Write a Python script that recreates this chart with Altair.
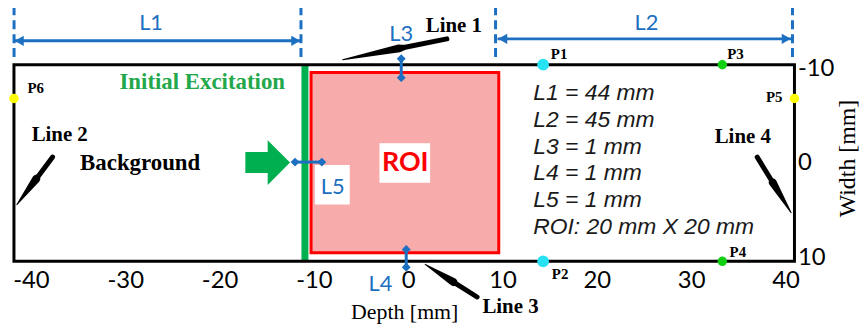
import altair as alt
import pandas as pd

# ---------------- data (mm) ----------------
X_DOMAIN = [-41.8, 40.95]
Y_DOMAIN = [-10.42, 10.42]
x_ticks = [-40, -30, -20, -10, 0, 10, 20, 30, 40]
y_ticks = [-10, 0, 10]

excitation_x = -10.95
roi_x, roi_x2, roi_y, roi_y2 = -10.3, 9.6, -9.6, 9.5

point_names = ["P1", "P2", "P3", "P4", "P5", "P6"]
point_x = [14.3, 14.3, 33.3, 33.3, 40.95, -41.8]
point_y = [-10.42, 10.42, -10.42, 10.42, -6.84, -6.84]
point_colors = ["#26e2f2", "#26e2f2", "#11d011", "#11d011", "#ffff00", "#ffff00"]
point_sizes = [140, 140, 90, 90, 90, 90]
plabel_x = [16.0, 16.1, 34.7, 34.95, 38.8, -39.5]
plabel_y = [-11.6, 11.8, -11.6, 9.4, -6.95, -7.9]

line_names = ["Line 1", "Line 2", "Line 3", "Line 4"]
line_tail_x = [4.1, -37.7, 7.3, 37.0]
line_tail_y = [-13.16, -0.63, 14.2, -0.63]
line_tip_x = [-6.95, -41.5, 1.8, 40.6]
line_tip_y = [-10.95, 4.42, 10.74, 5.26]
line_label_x = [4.84, -36.95, 10.84, 35.47]
line_label_y = [-14.53, -2.95, 15.3, -2.74]
arrow_frac = [0.0, 0.4, 0.46, 1.0]
arrow_width = [5, 5, 8, 0]

dim_x1 = [-41.79, 9.47]
dim_x2 = [-11.37, 40.63]
dim_y = [-12.95, -13.16]
dash_x = [-41.79, -11.37, 9.26, 40.74]
dash_y1, dash_y2 = -16.6, -11.05

small_x1 = [-0.74, -0.21, -12.0]
small_x2 = [-0.74, -0.21, -9.16]
small_y1 = [-11.05, 9.16, -0.1]
small_y2 = [-9.05, 11.05, -0.1]

blue_text = ["L1", "L2", "L3", "L4", "L5"]
blue_x = [-27.26, 25.26, -0.74, -2.95, -8.0]
blue_y = [-14.85, -14.85, -13.68, 12.84, 2.5]

spec_lines = ["L1 = 44 mm", "L2 = 45 mm", "L3 = 1 mm", "L4 = 1 mm", "L5 = 1 mm", "ROI: 20 mm X 20 mm"]
spec_x = 13.26
spec_y = [-7.37, -4.53, -1.68, 1.05, 3.89, 6.74]

# white label boxes: ROI, L5
wbox_x = [-3.05, -9.9]
wbox_x2 = [2.32, -6.2]
wbox_y = [-2.1, 0.2]
wbox_y2 = [2.1, 4.4]

green_arrow_x, green_arrow_y = -14.9, -0.05

BLUE = "#1c6fc1"
GREEN = "#00b050"

# ---------------- encodings ----------------
xs = alt.Scale(domain=X_DOMAIN, nice=False, zero=False)
ys = alt.Scale(domain=Y_DOMAIN, nice=False, zero=False, reverse=True)
xaxis = alt.Axis(values=x_ticks, title="Depth [mm]", grid=False, domain=False, ticks=False,
                 tickSize=0, labelFont="Lato", labelFontSize=24, labelColor="black",
                 labelExpr="'' + datum.value",
                 labelPadding=19, labelBaseline="middle", labelFlush=False, labelOverlap=False,
                 titleFont="Liberation Serif", titleFontSize=22, titleFontWeight="normal",
                 titleColor="black", titleY=51, titleBaseline="middle")
yaxis = alt.Axis(orient="right", values=y_ticks, title="Width [mm]", grid=False, domain=False,
                 ticks=False, tickSize=0, labelFont="Lato", labelFontSize=24, labelColor="black",
                 labelExpr="'' + datum.value",
                 labelAlign="left", labelPadding=3, labelBaseline="middle", labelFlush=False,
                 labelOverlap=False, titleFont="Liberation Serif", titleFontSize=24,
                 titleFontWeight="normal", titleColor="black", titleAngle=270, titleX=53,
                 titleY=94, titleAlign="center", titleBaseline="middle")


def X(f):
    return alt.X(f, type="quantitative", scale=xs, axis=xaxis)


def Y(f):
    return alt.Y(f, type="quantitative", scale=ys, axis=yaxis)


# ---------------- frames ----------------
box_df = pd.DataFrame({"x": [X_DOMAIN[0]], "x2": [X_DOMAIN[1]], "y": [Y_DOMAIN[0]], "y2": [Y_DOMAIN[1]]})
exc_df = pd.DataFrame({"x": [excitation_x], "y": [Y_DOMAIN[0]], "y2": [Y_DOMAIN[1]]})
roi_df = pd.DataFrame({"x": [roi_x], "x2": [roi_x2], "y": [roi_y], "y2": [roi_y2]})
wbox_df = pd.DataFrame({"x": wbox_x, "x2": wbox_x2, "y": wbox_y, "y2": wbox_y2})
pts_df = pd.DataFrame({"name": point_names, "x": point_x, "y": point_y, "c": point_colors,
                       "s": point_sizes, "lx": plabel_x, "ly": plabel_y})

rows = []
for i, n in enumerate(line_names):
    for k, (f, w) in enumerate(zip(arrow_frac, arrow_width)):
        rows.append({"name": n, "o": k,
                     "x": line_tail_x[i] + (line_tip_x[i] - line_tail_x[i]) * f,
                     "y": line_tail_y[i] + (line_tip_y[i] - line_tail_y[i]) * f,
                     "w": w})
trail_df = pd.DataFrame(rows)
line_lbl_df = pd.DataFrame({"t": line_names, "x": line_label_x, "y": line_label_y})

dim_df = pd.DataFrame({"x": dim_x1, "x2": dim_x2, "y": dim_y})
headL_df = pd.DataFrame({"x": [a + 0.55 for a in dim_x1], "y": dim_y})
headR_df = pd.DataFrame({"x": [a - 0.55 for a in dim_x2], "y": dim_y})
dash_df = pd.DataFrame({"x": dash_x, "y": [dash_y1] * 4, "y2": [dash_y2] * 4})
small_df = pd.DataFrame({"x": small_x1, "x2": small_x2, "y": small_y1, "y2": small_y2})
dia_df = pd.DataFrame({"x": small_x1 + small_x2, "y": small_y1 + small_y2})
blue_df = pd.DataFrame({"t": blue_text, "x": blue_x, "y": blue_y})
spec_df = pd.DataFrame({"t": spec_lines, "x": [spec_x] * len(spec_lines), "y": spec_y})
misc_df = pd.DataFrame({"t": ["Background"], "x": [-28.42], "y": [0.0]})
exc_lbl_df = pd.DataFrame({"t": ["Initial Excitation"], "x": [-21.84], "y": [-8.53]})
roi_lbl_df = pd.DataFrame({"t": ["ROI"], "x": [-0.32], "y": [0.0]})
garrow_df = pd.DataFrame({"x": [green_arrow_x], "y": [green_arrow_y]})

# ---------------- layers ----------------
layers = []
layers.append(alt.Chart(roi_df).mark_rect(fill="#f8abab", stroke="#ff0000", strokeWidth=3)
              .encode(x=X("x"), x2="x2", y=Y("y"), y2="y2"))
layers.append(alt.Chart(exc_df).mark_rule(color=GREEN, strokeWidth=7)
              .encode(x=X("x"), y=Y("y"), y2="y2"))
layers.append(alt.Chart(box_df).mark_rect(fill=None, fillOpacity=0, stroke="black", strokeWidth=3)
              .encode(x=X("x"), x2="x2", y=Y("y"), y2="y2"))
layers.append(alt.Chart(wbox_df).mark_rect(fill="white")
              .encode(x=X("x"), x2="x2", y=Y("y"), y2="y2"))
layers.append(alt.Chart(garrow_df).mark_point(
    shape="M-1,-0.47L0,-0.47L0,-1L1,0L0,1L0,0.47L-1,0.47Z", size=2025, filled=True,
    fill=GREEN, fillOpacity=1, strokeWidth=0).encode(x=X("x"), y=Y("y")))
# dimension lines
layers.append(alt.Chart(dash_df).mark_rule(color=BLUE, strokeWidth=3, strokeDash=[9, 5])
              .encode(x=X("x"), y=Y("y"), y2="y2"))
layers.append(alt.Chart(dim_df).mark_rule(color=BLUE, strokeWidth=3)
              .encode(x=X("x"), x2="x2", y=Y("y")))
layers.append(alt.Chart(headL_df).mark_point(shape="triangle-left", size=110, filled=True,
                                             color=BLUE, opacity=1).encode(x=X("x"), y=Y("y")))
layers.append(alt.Chart(headR_df).mark_point(shape="triangle-right", size=110, filled=True,
                                             color=BLUE, opacity=1).encode(x=X("x"), y=Y("y")))
layers.append(alt.Chart(small_df).mark_rule(color=BLUE, strokeWidth=3)
              .encode(x=X("x"), x2="x2", y=Y("y"), y2="y2"))
layers.append(alt.Chart(dia_df).mark_point(shape="diamond", size=80, filled=True,
                                           color=BLUE, opacity=1).encode(x=X("x"), y=Y("y")))
layers.append(alt.Chart(blue_df).mark_text(font="Lato", fontSize=22, color=BLUE,
                                           baseline="middle", align="center")
              .encode(x=X("x"), y=Y("y"), text="t:N"))
# callout arrows
layers.append(alt.Chart(trail_df).mark_trail(color="black")
              .encode(x=X("x"), y=Y("y"), size=alt.Size("w:Q", scale=None, legend=None),
                      detail="name:N", order="o:Q"))
layers.append(alt.Chart(line_lbl_df).mark_text(font="Liberation Serif", fontSize=21,
                                               fontWeight="bold", color="black", baseline="middle")
              .encode(x=X("x"), y=Y("y"), text="t:N"))
layers.append(alt.Chart(misc_df).mark_text(font="Liberation Serif", fontSize=23,
                                           fontWeight="bold", color="black", baseline="middle")
              .encode(x=X("x"), y=Y("y"), text="t:N"))
layers.append(alt.Chart(exc_lbl_df).mark_text(font="Liberation Serif", fontSize=23,
                                              fontWeight="bold", color="#22a84a", baseline="middle")
              .encode(x=X("x"), y=Y("y"), text="t:N"))
layers.append(alt.Chart(roi_lbl_df).mark_text(font="Lato", fontSize=27, fontWeight="bold",
                                              color="#ff0000", baseline="middle")
              .encode(x=X("x"), y=Y("y"), text="t:N"))
layers.append(alt.Chart(spec_df).mark_text(font="Liberation Sans", fontSize=23, fontStyle="italic",
                                           color="#1a1a1a", align="left", baseline="middle")
              .encode(x=X("x"), y=Y("y"), text="t:N"))
# probe points
layers.append(alt.Chart(pts_df).mark_point(filled=True, opacity=1, strokeWidth=0)
              .encode(x=X("x"), y=Y("y"), fill=alt.Fill("c:N", scale=None),
                      size=alt.Size("s:Q", scale=None, legend=None)))
layers.append(alt.Chart(pts_df).mark_text(font="Liberation Serif", fontSize=15, fontWeight="bold",
                                          color="black", baseline="middle")
              .encode(x=X("lx"), y=Y("ly"), text="name:N"))

chart = alt.layer(*layers).properties(
    width=786, height=198,
    autosize=alt.AutoSizeParams(type="none"),
    padding={"left": 6, "top": 56, "right": 66, "bottom": 63},
    background="white",
).configure_view(stroke=None)

chart.save("out.html", embed_options={"renderer": "svg", "actions": False})
